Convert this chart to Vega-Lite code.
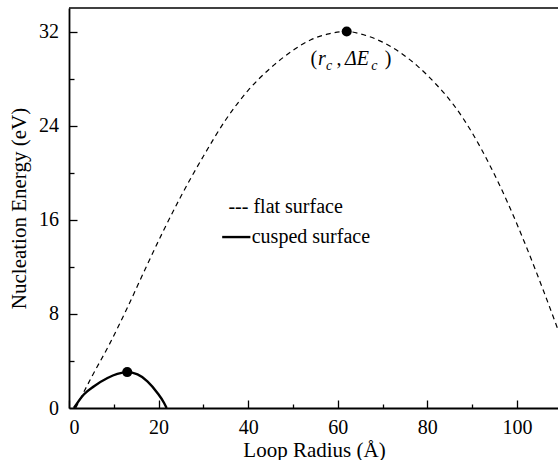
{
  "$schema": "https://vega.github.io/schema/vega-lite/v6.json",
  "width": 490,
  "height": 400,
  "padding": {"left": 8, "top": 7, "right": 0, "bottom": 0},
  "config": {
    "font": "Liberation Serif",
    "view": {"stroke": null},
    "axis": {
      "labelFont": "Liberation Serif", "titleFont": "Liberation Serif",
      "labelColor": "black", "titleColor": "black", "domainColor": "black", "tickColor": "black",
      "grid": false
    }
  },
  "datasets": {
    "flat": [
      {"r": 1.5, "E": 0}, {"r": 5, "E": 2.6}, {"r": 9, "E": 5.4}, {"r": 13, "E": 8.5},
      {"r": 17, "E": 11.8}, {"r": 21, "E": 15.0}, {"r": 25, "E": 18.0}, {"r": 30, "E": 21.4},
      {"r": 35, "E": 24.5}, {"r": 40, "E": 27.0}, {"r": 45, "E": 28.9}, {"r": 50, "E": 30.4},
      {"r": 54, "E": 31.3}, {"r": 58, "E": 31.8}, {"r": 62, "E": 32.0}, {"r": 66, "E": 31.7},
      {"r": 70, "E": 31.1}, {"r": 74, "E": 30.2}, {"r": 78, "E": 29.0}, {"r": 82, "E": 27.5},
      {"r": 86, "E": 25.7}, {"r": 90, "E": 23.4}, {"r": 94, "E": 20.6}, {"r": 98, "E": 17.4},
      {"r": 102, "E": 13.8}, {"r": 106, "E": 9.9}, {"r": 110, "E": 5.8}
    ],
    "cusped": [
      {"r": 1.1, "E": 0}, {"r": 3.3, "E": 1.15}, {"r": 5.6, "E": 1.85}, {"r": 8.6, "E": 2.55},
      {"r": 10.8, "E": 2.9}, {"r": 12.9, "E": 3.05}, {"r": 15.3, "E": 2.85}, {"r": 17.5, "E": 2.27},
      {"r": 19.7, "E": 1.3}, {"r": 21.2, "E": 0.45}, {"r": 21.8, "E": 0}
    ],
    "peaks": [{"r": 62, "E": 32}, {"r": 13, "E": 3.05}],
    "border": [{"r": 0, "r2": 109.4, "E": 34}],
    "legendText": [
      {"r": 35.6, "E": 16.57, "t": "--- flat surface"},
      {"r": 40.8, "E": 14.04, "t": "cusped surface"}
    ],
    "legendLine": [{"r": 34.2, "r2": 40.5, "E": 14.53}],
    "annot": [
      {"r": 53.9, "E": 29.17, "t": "(", "part": "plain"},
      {"r": 59.7, "E": 29.17, "t": ",", "part": "plain"},
      {"r": 70.5, "E": 29.17, "t": ")", "part": "plain"},
      {"r": 55.6, "E": 29.17, "t": "r", "part": "main"},
      {"r": 61.6, "E": 29.17, "t": "ΔE", "part": "main"},
      {"r": 57.4, "E": 28.7, "t": "c", "part": "sub"},
      {"r": 67.5, "E": 28.7, "t": "c", "part": "sub"}
    ]
  },
  "resolve": {"axis": {"x": "independent", "y": "independent"}},
  "encoding": {
    "x": {"field": "r", "type": "quantitative", "scale": {"domain": [0, 109.4], "nice": false, "zero": false}, "axis": null},
    "y": {"field": "E", "type": "quantitative", "scale": {"domain": [0, 34], "nice": false, "zero": false}, "axis": null}
  },
  "layer": [
    {
      "data": {"name": "border"},
      "mark": {"type": "rule", "color": "black", "strokeWidth": 1.5},
      "encoding": {
        "x": {
          "field": "r", "type": "quantitative", "scale": {"domain": [0, 109.4], "nice": false, "zero": false},
          "axis": {
            "orient": "bottom", "title": "Loop Radius (Å)", "titleFontSize": 21, "titleFontWeight": "normal",
            "labelFontSize": 20, "values": [0, 20, 40, 60, 80, 100], "ticks": false, "tickSize": 0,
            "domainWidth": 2.2, "labelPadding": 9, "titlePadding": 2
          }
        },
        "x2": {"field": "r2"},
        "y": {
          "field": "E", "type": "quantitative", "scale": {"domain": [0, 34], "nice": false, "zero": false},
          "axis": {
            "orient": "left", "title": "Nucleation Energy (eV)", "titleFontSize": 21, "titleFontWeight": "normal",
            "labelFontSize": 20, "values": [0, 8, 16, 24, 32], "ticks": false, "tickSize": 0,
            "domainWidth": 1.8, "labelPadding": 10.5, "titlePadding": 9
          }
        }
      }
    },
    {
      "data": {"name": "flat"},
      "mark": {"type": "line", "color": "black", "strokeWidth": 1.2, "strokeDash": [5, 4], "interpolate": "monotone"},
      "encoding": {
        "x": {
          "field": "r", "type": "quantitative", "scale": {"domain": [0, 109.4], "nice": false, "zero": false},
          "axis": {"orient": "bottom", "offset": -8, "tickSize": 8, "tickWidth": 1.3, "values": [0, 20, 40, 60, 80, 100],
                   "domain": false, "labels": false, "title": null}
        },
        "y": {
          "field": "E", "type": "quantitative", "scale": {"domain": [0, 34], "nice": false, "zero": false},
          "axis": {"orient": "left", "offset": -8, "tickSize": 8, "tickWidth": 1.3, "values": [8, 16, 24, 32],
                   "domain": false, "labels": false, "title": null}
        }
      }
    },
    {
      "data": {"name": "cusped"},
      "mark": {"type": "line", "color": "black", "strokeWidth": 2.4, "interpolate": "monotone"},
      "encoding": {
        "x": {
          "field": "r", "type": "quantitative", "scale": {"domain": [0, 109.4], "nice": false, "zero": false},
          "axis": {"orient": "bottom", "offset": -4, "tickSize": 4, "tickWidth": 1.3, "values": [10, 30, 50, 70, 90],
                   "domain": false, "labels": false, "title": null}
        },
        "y": {
          "field": "E", "type": "quantitative", "scale": {"domain": [0, 34], "nice": false, "zero": false},
          "axis": {"orient": "left", "offset": -5, "tickSize": 5, "tickWidth": 1.3, "values": [4, 12, 20, 28],
                   "domain": false, "labels": false, "title": null}
        }
      }
    },
    {
      "data": {"name": "peaks"},
      "mark": {"type": "point", "filled": true, "color": "black", "size": 100, "opacity": 1}
    },
    {
      "data": {"name": "legendText"},
      "mark": {"type": "text", "align": "left", "baseline": "alphabetic", "fontSize": 20, "color": "black"},
      "encoding": {"text": {"field": "t"}}
    },
    {
      "data": {"name": "legendLine"},
      "mark": {"type": "rule", "color": "black", "strokeWidth": 2.4},
      "encoding": {"x2": {"field": "r2"}}
    },
    {
      "data": {"name": "annot"},
      "transform": [{"filter": "datum.part === 'plain'"}],
      "mark": {"type": "text", "align": "left", "baseline": "alphabetic", "fontSize": 20, "color": "black"},
      "encoding": {"text": {"field": "t"}}
    },
    {
      "data": {"name": "annot"},
      "transform": [{"filter": "datum.part === 'main'"}],
      "mark": {"type": "text", "align": "left", "baseline": "alphabetic", "fontSize": 20, "fontStyle": "italic", "color": "black"},
      "encoding": {"text": {"field": "t"}}
    },
    {
      "data": {"name": "annot"},
      "transform": [{"filter": "datum.part === 'sub'"}],
      "mark": {"type": "text", "align": "left", "baseline": "alphabetic", "fontSize": 14, "fontStyle": "italic", "color": "black"},
      "encoding": {"text": {"field": "t"}}
    }
  ]
}
